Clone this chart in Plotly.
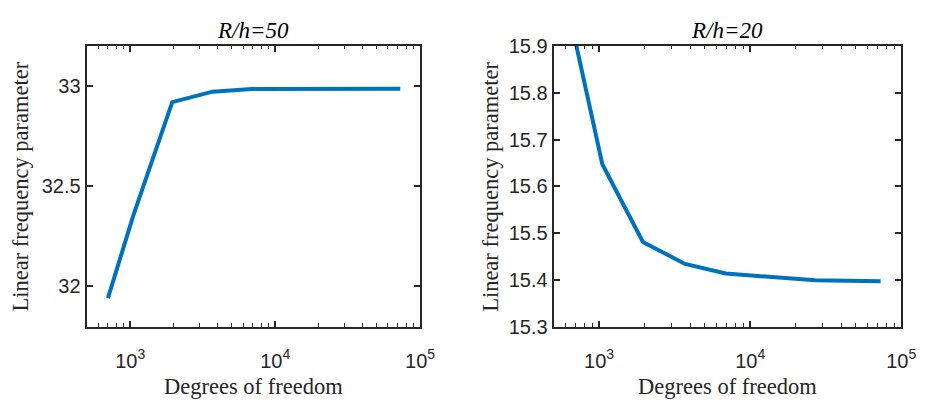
import plotly.graph_objects as go

dof = [702, 1050, 1950, 3700, 6900, 27000, 73000]
freq_r50 = [31.942, 32.354, 32.92, 32.972, 32.986, 32.987, 32.987]
freq_r20 = [15.905, 15.647, 15.481, 15.434, 15.4135, 15.399, 15.397]
titles = ["<i>R/h=50</i>", "<i>R/h=20</i>"]
x_title = "Degrees of freedom"
y_title = "Linear frequency parameter"
xtick_vals = [1e3, 1e4, 1e5]
xtick_text = ["10<sup>3</sup>", "10<sup>4</sup>", "10<sup>5</sup>"]
ytick_r50 = [32, 32.5, 33]
ytick_r50_text = ["32", "32.5", "33"]
ytick_r20 = [15.3, 15.4, 15.5, 15.6, 15.7, 15.8, 15.9]
ytick_r20_text = ["15.3", "15.4", "15.5", "15.6", "15.7", "15.8", "15.9"]

W, H = 932, 405
line_color = "#0072BD"
axis_color = "#262626"

fig = go.Figure()
fig.add_trace(go.Scatter(x=dof, y=freq_r50, mode="lines",
                         line=dict(color=line_color, width=4), xaxis="x", yaxis="y",
                         showlegend=False))
fig.add_trace(go.Scatter(x=dof, y=freq_r20, mode="lines",
                         line=dict(color=line_color, width=4), xaxis="x2", yaxis="y2",
                         showlegend=False))

minor_vals = [v * k for v in [100, 1000, 10000] for k in range(2, 10)]

def xaxis(domain, anchor):
    return dict(domain=domain, anchor=anchor, type="log", range=[2.699, 5],
                tickvals=xtick_vals, ticktext=xtick_text,
                ticks="inside", ticklen=6, tickwidth=1.5, tickcolor=axis_color,
                minor=dict(ticks="inside", ticklen=3.5, tickwidth=1.2, tickcolor=axis_color,
                           tickvals=minor_vals),
                showline=True, linecolor=axis_color, linewidth=2, mirror="allticks",
                showgrid=False, zeroline=False, ticklabelstandoff=15,
                tickfont=dict(family="Liberation Sans", size=20, color=axis_color),
                title=dict(text=x_title, standoff=8,
                           font=dict(family="Liberation Serif", size=22.5, color=axis_color)))

def yaxis(domain, anchor, rng, tv, tt):
    return dict(domain=domain, anchor=anchor, range=rng, tickvals=tv, ticktext=tt,
                ticks="inside", ticklen=6, tickwidth=1.5, tickcolor=axis_color,
                showline=True, linecolor=axis_color, linewidth=2, mirror="allticks",
                showgrid=False, zeroline=False, ticklabelstandoff=0,
                tickfont=dict(family="Liberation Sans", size=20, color=axis_color))

ydom = [1 - 333.7 / H, 1 - 37 / H]
fig.update_layout(
    width=W, height=H, margin=dict(l=0, r=0, t=0, b=0),
    plot_bgcolor="white", paper_bgcolor="white",
    xaxis=xaxis([88 / W, 427 / W], "y"),
    yaxis=yaxis(ydom, "x", [31.8, 33.2], ytick_r50, ytick_r50_text),
    xaxis2=xaxis([562.7 / W, 916 / W], "y2"),
    yaxis2=yaxis(ydom, "x2", [15.3, 15.9], ytick_r20, ytick_r20_text),
)

for t, cx in zip(titles, [(88 + 427) / 2, (562.7 + 916) / 2]):
    fig.add_annotation(text=t, x=cx / W, y=1 - 21 / H, xref="paper", yref="paper",
                       showarrow=False, xanchor="center", yanchor="middle",
                       font=dict(family="Liberation Serif", size=23, color="black"))

for px in [21, 499]:
    fig.add_annotation(text=y_title, x=px / W, y=1 - 186 / H, xref="paper", yref="paper",
                       showarrow=False, xanchor="center", yanchor="middle", textangle=-90,
                       font=dict(family="Liberation Serif", size=22.5, color=axis_color))

fig.write_html("out.html")
